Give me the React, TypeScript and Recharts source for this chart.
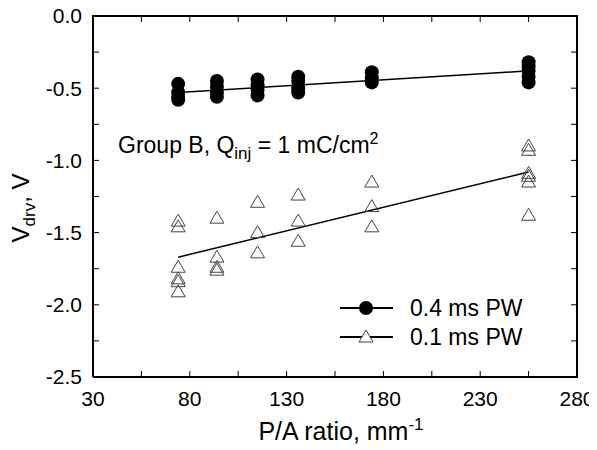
import { ScatterChart, Scatter, XAxis, YAxis } from 'recharts';

const FONT = '"Liberation Sans", Arial, sans-serif';

// P/A ratio groups (mm^-1)
const xLong = [74, 74, 74, 74, 94, 94, 94, 94, 115, 115, 115, 115, 136, 136, 136, 136, 174, 174, 174, 255, 255, 255, 255, 255];
const vLong = [-0.47, -0.53, -0.56, -0.58, -0.45, -0.49, -0.53, -0.56, -0.44, -0.48, -0.51, -0.55, -0.42, -0.45, -0.5, -0.53, -0.39, -0.43, -0.46, -0.32, -0.35, -0.38, -0.42, -0.46];

const xShort = [74, 74, 74, 74, 74, 74, 94, 94, 94, 94, 115, 115, 115, 136, 136, 136, 174, 174, 174, 255, 255, 255, 255, 255, 255];
const vShort = [-1.42, -1.46, -1.74, -1.82, -1.84, -1.91, -1.4, -1.67, -1.74, -1.76, -1.29, -1.5, -1.64, -1.24, -1.42, -1.56, -1.15, -1.32, -1.46, -0.9, -0.93, -1.09, -1.11, -1.15, -1.38];

// linear fits
const fitX = [74, 255];
const fitLong = [-0.53, -0.38];
const fitShort = [-1.67, -1.08];

const seriesNames = ['0.4 ms PW', '0.1 ms PW'];

const xDomain = [30, 280];
const yDomain = [-2.5, 0];
const xTicks = [30, 55, 80, 105, 130, 155, 180, 205, 230, 255, 280];
const yTicks = [0, -0.25, -0.5, -0.75, -1, -1.25, -1.5, -1.75, -2, -2.25, -2.5];

const toPts = (xs: number[], ys: number[]) => xs.map((x, i) => ({ x, y: ys[i] }));

const longData = toPts(xLong, vLong);
const shortData = toPts(xShort, vShort);
const longFit = toPts(fitX, fitLong);
const shortFit = toPts(fitX, fitShort);

// chart geometry (same numbers that go to the chart)
const W = 589;
const H = 442;
const margin = { top: 8, right: 20, bottom: 43, left: 0 };
const Y_AXIS_W = 85;
const X_AXIS_H = 30;
const plot = {
  left: margin.left + Y_AXIS_W,
  right: W - margin.right,
  top: margin.top,
  bottom: H - margin.bottom - X_AXIS_H,
};
const sx = (v: number) => plot.left + ((v - xDomain[0]) / (xDomain[1] - xDomain[0])) * (plot.right - plot.left);
const sy = (v: number) => plot.bottom - ((v - yDomain[0]) / (yDomain[1] - yDomain[0])) * (plot.bottom - plot.top);

const Dot = (p: any) => <circle cx={p.cx} cy={p.cy} r={7} fill="#000" />;
const Tri = (p: any) => (
  <polygon
    points={`${p.cx},${p.cy - 7} ${p.cx - 7},${p.cy + 5} ${p.cx + 7},${p.cy + 5}`}
    fill="none"
    stroke="#444"
    strokeWidth={1}
  />
);
const Nothing = () => <g />;

const fmtX = (v: number) => ((v - 30) % 50 === 0 ? String(v) : '');
const fmtY = (v: number) => (Math.abs((v * 2) % 1) < 1e-6 ? v.toFixed(1) : '');

const tickStyle = { fill: '#000', fontSize: 21, fontFamily: FONT };

// mirrored top/right axes, drawn in an overlay svg on top of the chart
function FrameOverlay() {
  return (
    <svg
      width={W}
      height={H}
      style={{ position: 'absolute', left: 0, top: 0, pointerEvents: 'none', overflow: 'visible' }}
    >
      <line x1={plot.left - 1} x2={plot.right + 1} y1={plot.top} y2={plot.top} stroke="#000" strokeWidth={2} />
      <line x1={plot.right} x2={plot.right} y1={plot.top} y2={plot.bottom + 1} stroke="#000" strokeWidth={2} />
      {xTicks.map((t) => (
        <line key={`tx${t}`} x1={sx(t)} x2={sx(t)} y1={plot.top} y2={plot.top + 6} stroke="#000" strokeWidth={1} />
      ))}
      {yTicks.map((t) => (
        <line key={`ty${t}`} x1={plot.right} x2={plot.right - 6} y1={sy(t)} y2={sy(t)} stroke="#000" strokeWidth={1} />
      ))}
    </svg>
  );
}

function Extras() {
  return (
    <g fontFamily={FONT} fill="#000">
      <text x={110} y={145} fontSize={23}>
        Group B, Q<tspan fontSize={17} dy={6}>inj</tspan>
        <tspan dy={-6}> = 1 mC/cm</tspan>
        <tspan fontSize={16} dy={-9}>2</tspan>
      </text>
      <text x={333} y={432} fontSize={25} textAnchor="middle">
        P/A ratio, mm<tspan fontSize={17} dy={-10}>-1</tspan>
      </text>
      <text x={21} y={200} fontSize={24} textAnchor="middle" transform="rotate(-90, 21, 200)">
        V<tspan fontSize={17} dy={6}>drv</tspan>
        <tspan dy={-6}>, V</tspan>
      </text>
      <g>
        <line x1={332} x2={385} y1={300} y2={300} stroke="#000" strokeWidth={2} />
        <circle cx={358} cy={300} r={7} fill="#000" />
        <text x={402} y={308} fontSize={23}>{seriesNames[0]}</text>
        <line x1={332} x2={385} y1={329} y2={329} stroke="#000" strokeWidth={2} />
        <polygon points="358,322 351,334 365,334" fill="#fff" stroke="#444" strokeWidth={1} />
        <text x={402} y={337} fontSize={23}>{seriesNames[1]}</text>
      </g>
    </g>
  );
}

export default function App() {
  return (
    <div style={{ position: 'relative', width: W, height: H }}>
      <ScatterChart width={W} height={H} margin={margin}>
        <XAxis
          dataKey="x"
          type="number"
          domain={xDomain}
          ticks={xTicks}
          tickFormatter={fmtX}
          interval={0}
          height={X_AXIS_H}
          tickSize={-6}
          tickMargin={20}
          axisLine={{ stroke: '#000', strokeWidth: 2 }}
          tickLine={{ stroke: '#000' }}
          tick={tickStyle}
          allowDataOverflow
        />
        <YAxis
          dataKey="y"
          type="number"
          domain={yDomain}
          ticks={yTicks}
          tickFormatter={fmtY}
          interval={0}
          width={Y_AXIS_W}
          tickSize={-6}
          tickMargin={17}
          axisLine={{ stroke: '#000', strokeWidth: 2 }}
          tickLine={{ stroke: '#000' }}
          tick={tickStyle}
          allowDataOverflow
        />
        <Scatter data={longFit} line={{ stroke: '#000', strokeWidth: 1.5 }} shape={Nothing} isAnimationActive={false} />
        <Scatter data={shortFit} line={{ stroke: '#000', strokeWidth: 1.5 }} shape={Nothing} isAnimationActive={false} />
        <Scatter name={seriesNames[0]} data={longData} shape={Dot} isAnimationActive={false} />
        <Scatter name={seriesNames[1]} data={shortData} shape={Tri} isAnimationActive={false} />
        <Extras />
      </ScatterChart>
      <FrameOverlay />
    </div>
  );
}
